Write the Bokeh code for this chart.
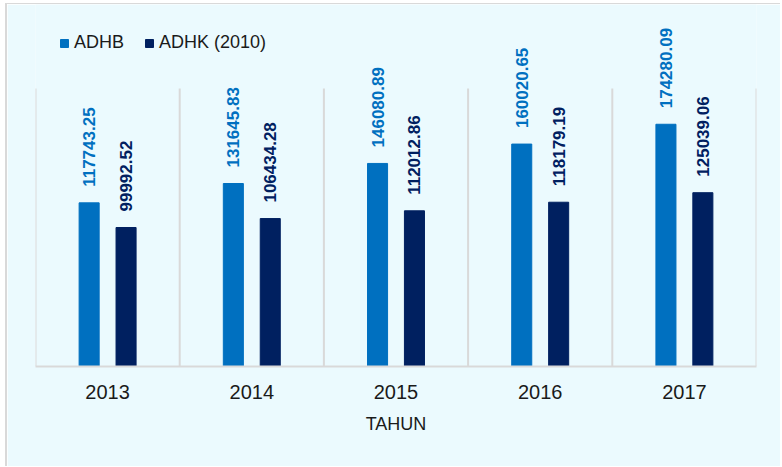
import math
from bokeh.plotting import figure
from bokeh.models import ColumnDataSource, Range1d, FixedTicker, Legend, LegendItem
from bokeh.core.properties import value
from bokeh.embed import file_html
from bokeh.resources import INLINE

years = ["2013", "2014", "2015", "2016", "2017"]
adhb = [117743.25, 131645.83, 146080.89, 160020.65, 174280.09]
adhk = [99992.52, 106434.28, 112012.86, 118179.19, 125039.06]
axis_max = 200000

C_ADHB = "#0070C0"
C_ADHK = "#002060"
BG = "#EBFAFE"
GRID = "#D9D9D9"

centers = [i + 0.5 for i in range(len(years))]
bounds = list(range(len(years) + 1))
off = 0.128
bw = 0.139

src_b = ColumnDataSource(dict(x=[c - off for c in centers], top=adhb,
                              lab=[f"{v:.2f}" for v in adhb]))
src_k = ColumnDataSource(dict(x=[c + off for c in centers], top=adhk,
                              lab=[f"{v:.2f}" for v in adhk]))

# figure placed at (7, 4) on the page, with a thin grey border on top/left
ox, oy = 7, 4
W, H = 782 - ox, 467 - oy
frame_top, frame_bottom, plot_top = 4, 366, 88
y_end = axis_max * (frame_bottom - frame_top) / (frame_bottom - plot_top)

p = figure(width=W, height=H, output_backend="svg", toolbar_location=None,
           x_range=Range1d(0, len(years)), y_range=Range1d(0, y_end),
           min_border_left=35 - ox, min_border_right=26, min_border_top=frame_top - oy,
           min_border_bottom=467 - frame_bottom)
p.styles = {"margin-top": "3px", "margin-left": "5px",
            "border-top": "1px solid #D9D9D9", "border-left": "2px solid #D9D9D9"}
p.background_fill_color = BG
p.border_fill_color = BG
p.outline_line_color = None
p.grid.visible = False

p.segment(x0=bounds, y0=[0] * len(bounds), x1=bounds, y1=[axis_max] * len(bounds),
          line_color=GRID, line_width=2)

r1 = p.vbar(x="x", top="top", width=bw, source=src_b, color=C_ADHB)
r2 = p.vbar(x="x", top="top", width=bw, source=src_k, color=C_ADHK)

lab_font = value("Liberation Sans")
for src, col in ((src_b, C_ADHB), (src_k, C_ADHK)):
    p.text(x="x", y="top", text="lab", source=src, angle=math.pi / 2,
           text_align="left", text_baseline="middle", y_offset=-16,
           text_font=lab_font, text_font_size="17px", text_font_style="bold",
           text_color=col)

p.yaxis.visible = False

xa = p.xaxis[0]
xa.ticker = FixedTicker(ticks=centers)
xa.major_label_overrides = {c: y for c, y in zip(centers, years)}
xa.axis_line_color = GRID
xa.axis_line_width = 2
xa.major_tick_line_color = None
xa.minor_tick_line_color = None
xa.major_tick_out = 0
xa.major_tick_in = 0
xa.major_label_standoff = 18
xa.major_label_text_font = "Liberation Sans"
xa.major_label_text_font_size = "20px"
xa.major_label_text_color = "#1a1a1a"
xa.axis_label = "TAHUN"
xa.axis_label_text_font = "Liberation Sans"
xa.axis_label_text_font_size = "18px"
xa.axis_label_text_font_style = "normal"
xa.axis_label_text_color = "#1a1a1a"
xa.axis_label_standoff = 12

legend = Legend(items=[LegendItem(label="ADHB", renderers=[r1]),
                       LegendItem(label="ADHK (2010)", renderers=[r2])],
                orientation="horizontal", location=(24, 313),
                glyph_width=10, glyph_height=10, label_standoff=5, spacing=20,
                padding=0, margin=0, border_line_alpha=0, background_fill_alpha=0,
                label_text_font="Liberation Sans", label_text_font_size="18px",
                label_text_color="#1a1a1a")
p.add_layout(legend, "center")

open("out.html", "w").write(file_html(p, INLINE))
